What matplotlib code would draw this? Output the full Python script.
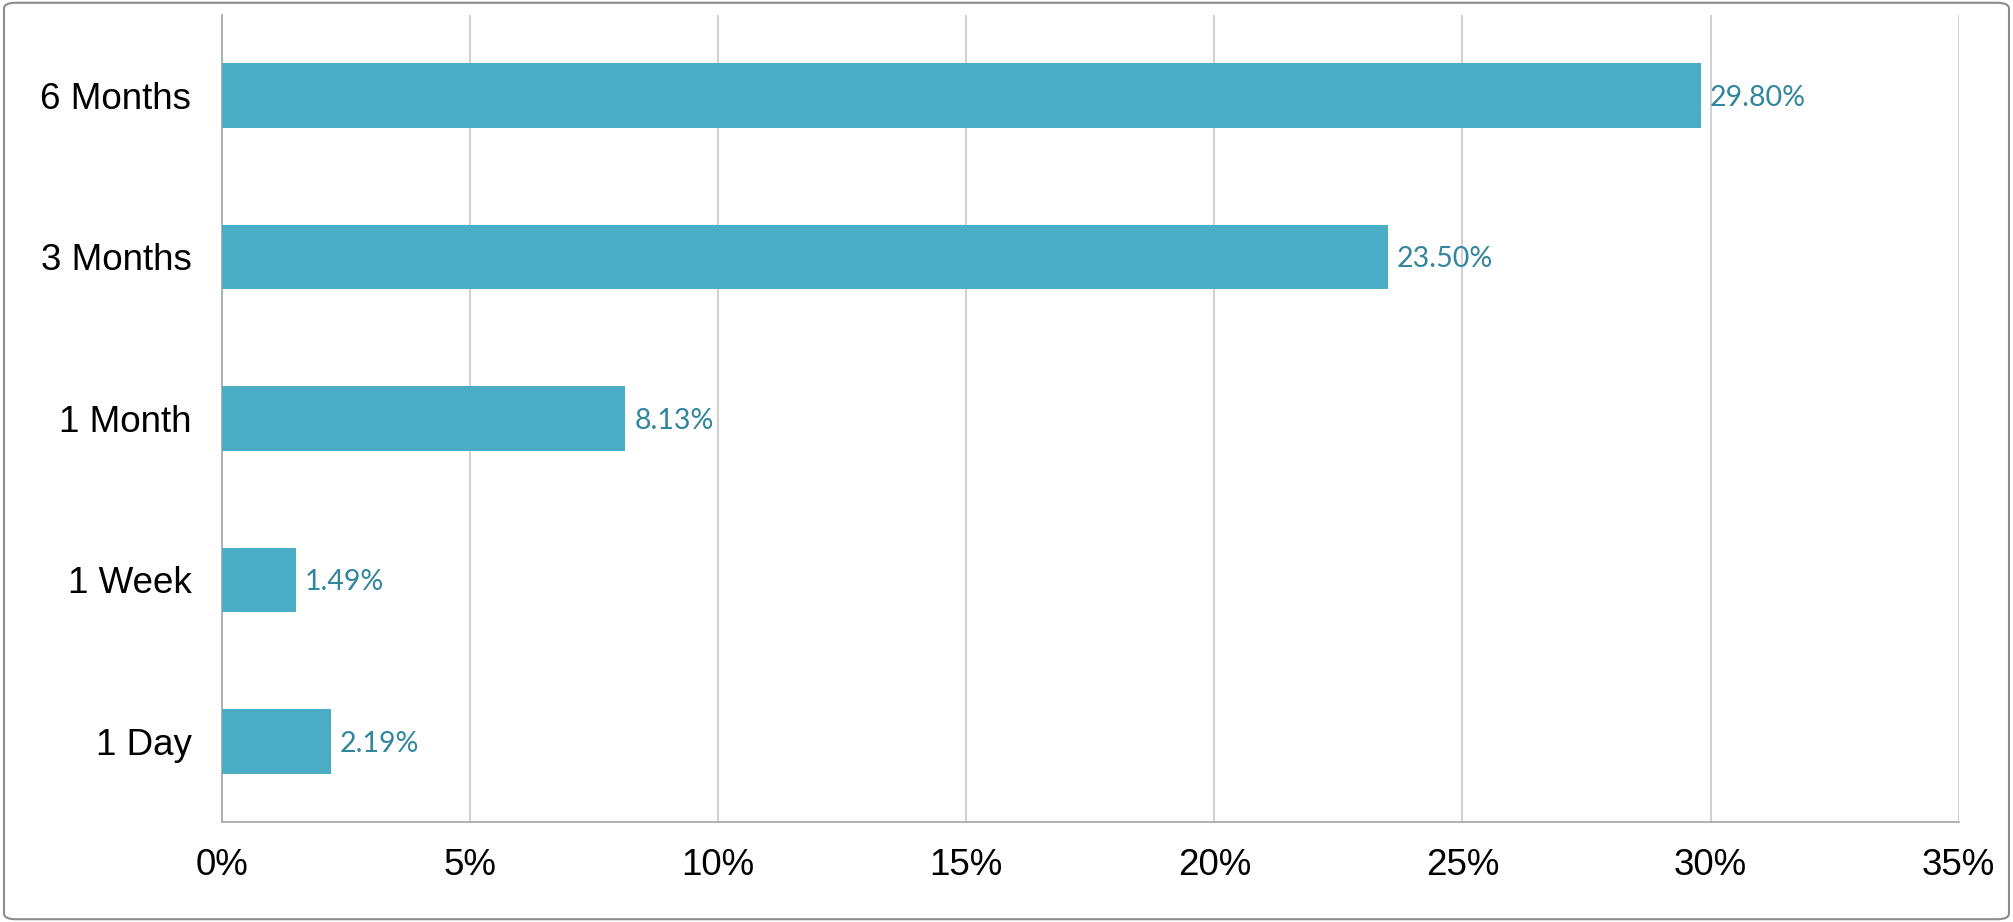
import matplotlib.pyplot as plt
from matplotlib.patches import FancyBboxPatch

categories = ["1 Day", "1 Week", "1 Month", "3 Months", "6 Months"]
values = [2.19, 1.49, 8.13, 23.50, 29.80]
xticks = [0, 5, 10, 15, 20, 25, 30, 35]

bar_color = "#4BACC6"
label_color = "#31859C"

fig = plt.figure(figsize=(20.13, 9.22), dpi=100)
ax = fig.add_axes([0.1103, 0.1085, 0.973 - 0.1103, 0.984 - 0.1085])

ax.barh(categories, values, height=0.4, color=bar_color, zorder=3)
for i, v in enumerate(values):
    ax.text(v + 0.18, i - 0.015, f"{v:.2f}%", va="center", ha="left",
            fontsize=20.5, color=label_color, family="Lato", zorder=4)

ax.set_xlim(0, 35)
ax.set_ylim(-0.5, 4.5)
ax.set_xticks(xticks)
ax.set_xticklabels([f"{t}%" for t in xticks], fontsize=26.5, family="Liberation Sans")
ax.tick_params(axis="y", labelsize=26.5, length=0, pad=22)
ax.tick_params(axis="x", length=0, pad=19)
for lab in ax.get_yticklabels():
    lab.set_family("Liberation Sans")

ax.grid(axis="x", color="#C8C8C8", linewidth=1.2, zorder=0)
for side in ["top", "right"]:
    ax.spines[side].set_visible(False)
ax.spines["left"].set_color("#A6A6A6")
ax.spines["bottom"].set_color("#A6A6A6")
ax.spines["left"].set_linewidth(1.2)
ax.spines["bottom"].set_linewidth(1.2)

border = FancyBboxPatch((0.002, 0.003), 0.996, 0.994,
                        boxstyle="round,pad=0,rounding_size=0.006",
                        transform=fig.transFigure, fill=False,
                        edgecolor="#8C8C8C", linewidth=1.5)
fig.patches.append(border)

fig.savefig("out.png", dpi=100)
